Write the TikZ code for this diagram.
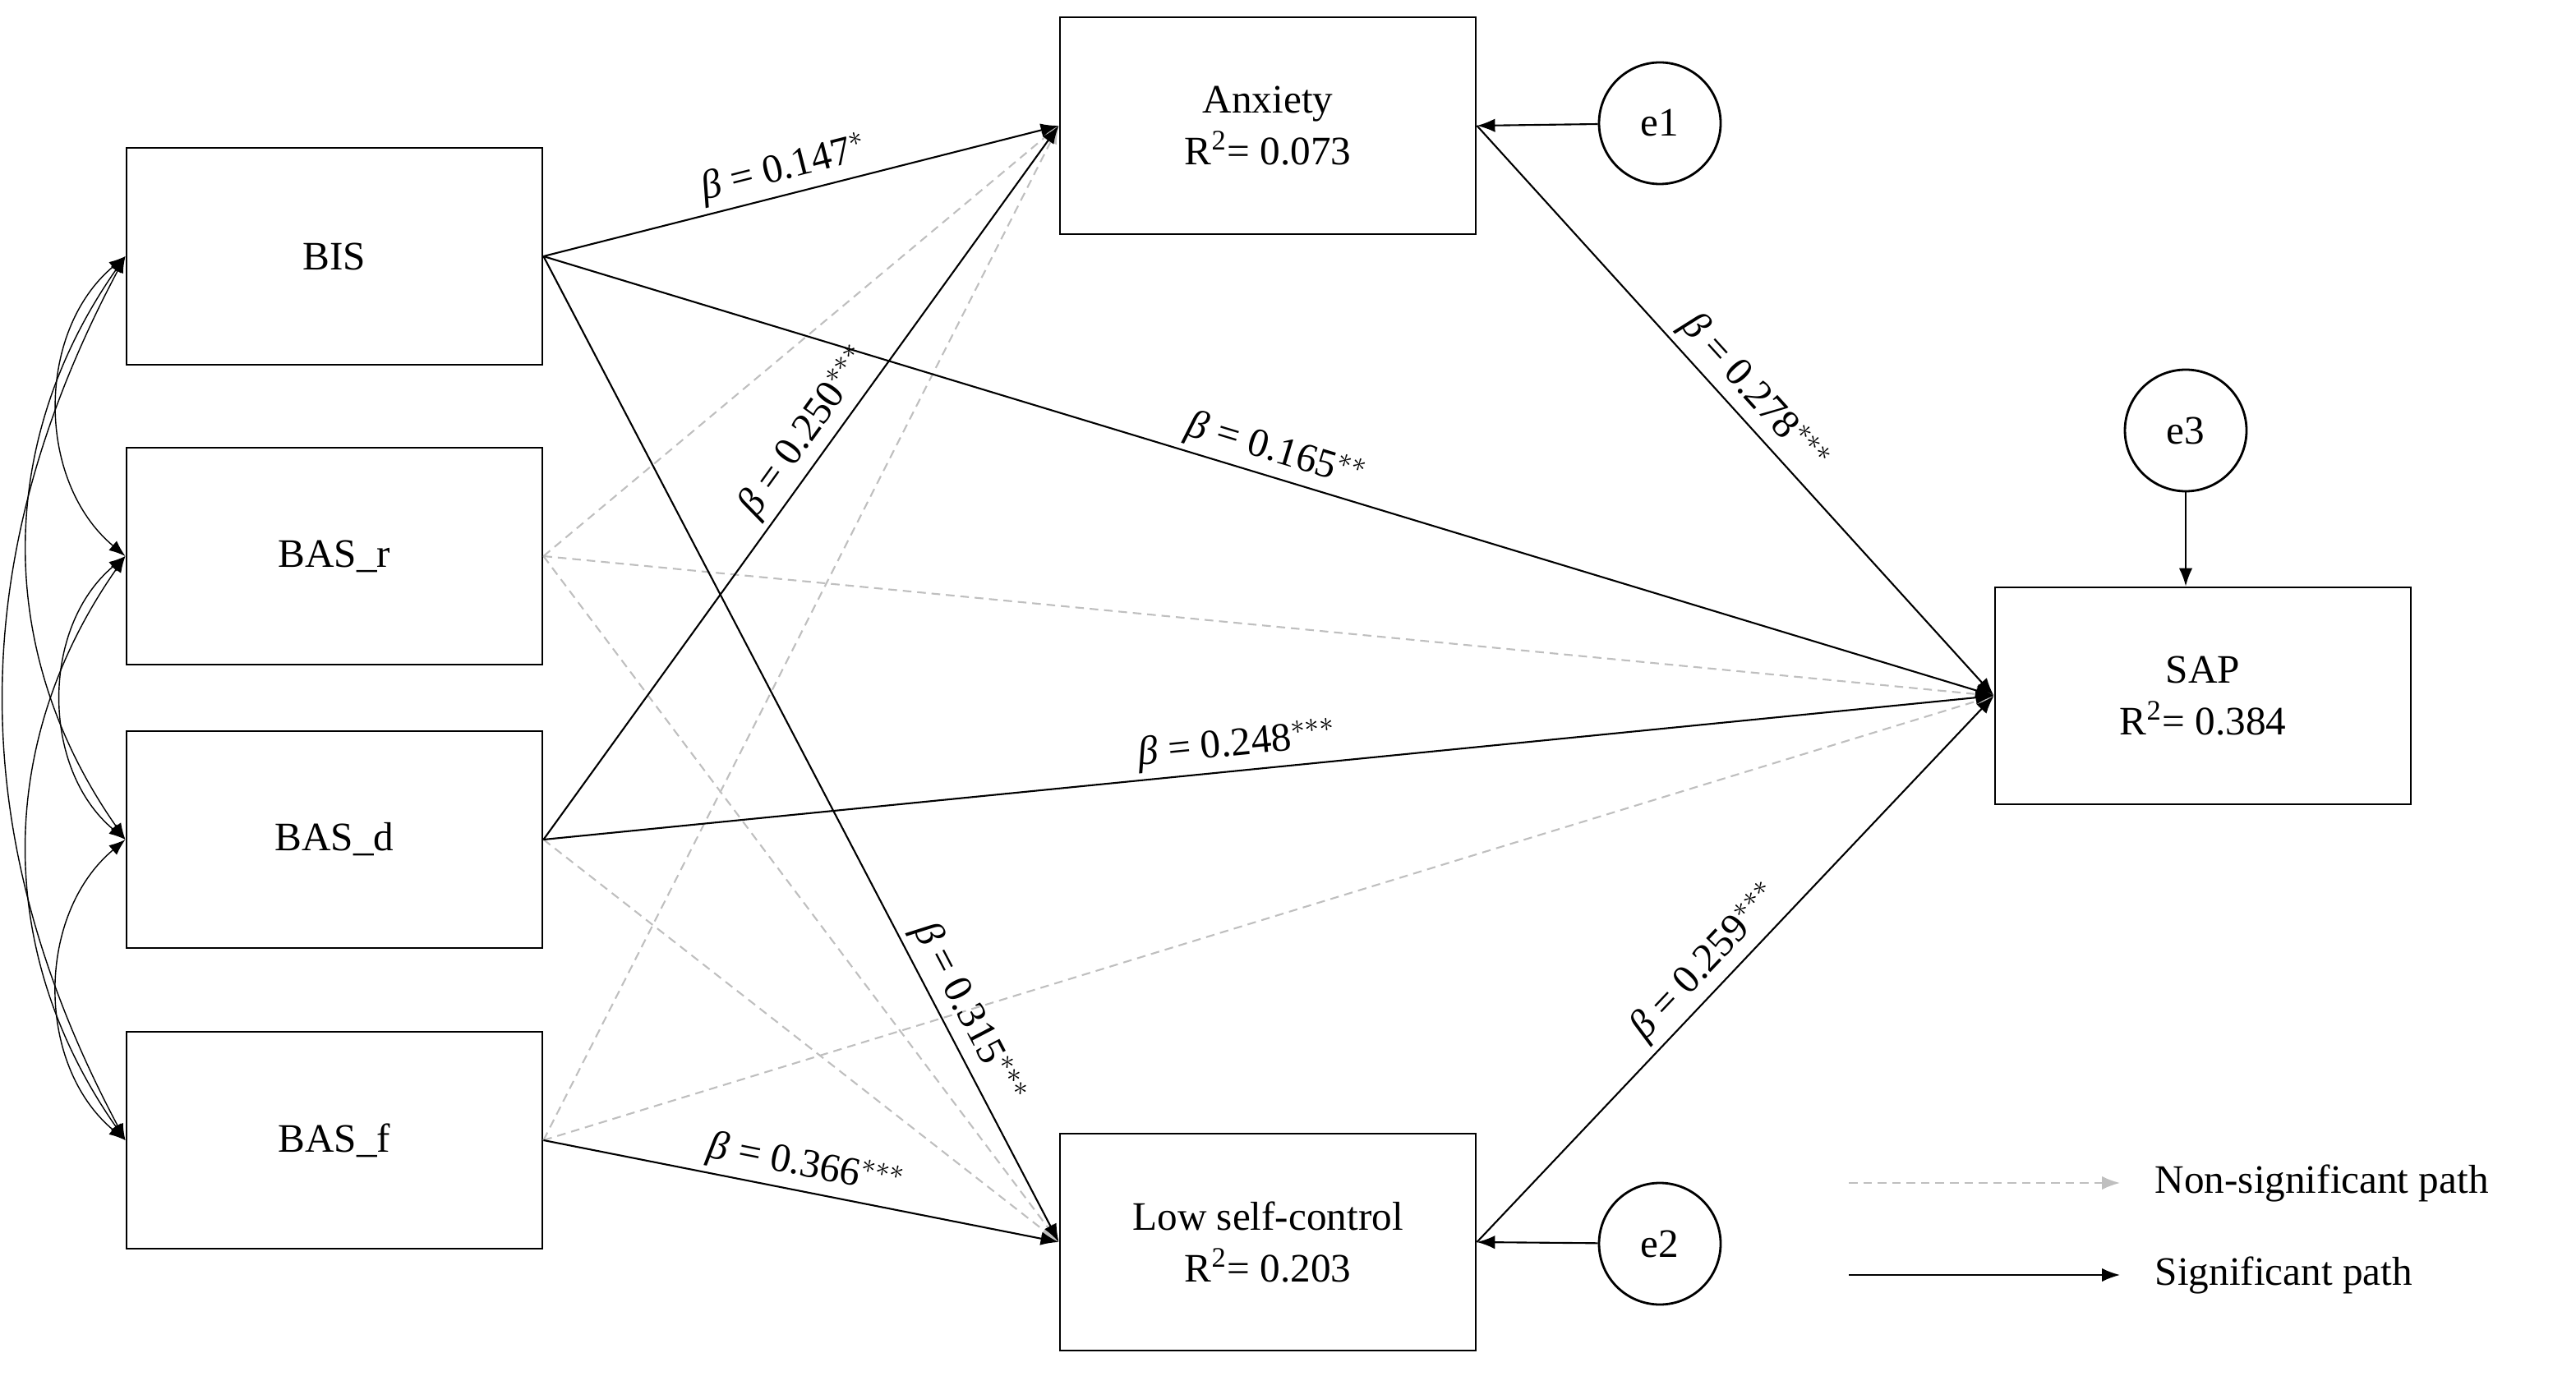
\documentclass[tikz,border=0pt]{standalone}
\usepackage{fontspec}
\setmainfont{Liberation Serif}
\usetikzlibrary{arrows.meta}
\begin{document}
\begin{tikzpicture}[
    box/.style={draw,thick,minimum width=5.06cm,minimum height=2.64cm,align=center,font=\fontsize{14}{18}\selectfont},
    err/.style={draw,thick,circle,minimum size=1.48cm,font=\fontsize{14}{16}\selectfont},
    sig/.style={-{Latex[length=2.2mm]},semithick},
    nonsig/.style={-{Latex[length=2.2mm]},densely dashed,gray!50,semithick},
    lab/.style={sloped,above,font=\fontsize{14}{16}\selectfont,inner sep=2pt}
]
    \useasboundingbox (0,0) rectangle (31.35,-16.75);

    \node[box] (bis) at (4.07,-3.12) {BIS};
    \node[box] (basr) at (4.07,-6.77) {BAS\_r};
    \node[box] (basd) at (4.07,-10.22) {BAS\_d};
    \node[box] (basf) at (4.07,-13.88) {BAS\_f};
    \node[box] (anx) at (15.43,-1.53) {Anxiety\\R\textsuperscript{2}= 0.073};
    \node[box] (lsc) at (15.43,-15.12) {Low self-control\\R\textsuperscript{2}= 0.203};
    \node[box] (sap) at (26.81,-8.47) {SAP\\R\textsuperscript{2}= 0.384};
    \node[err] (e1) at (20.2,-1.5) {e1};
    \node[err] (e2) at (20.2,-15.14) {e2};
    \node[err] (e3) at (26.6,-5.24) {e3};

    % covariances
    \draw[{Latex[length=2mm]}-{Latex[length=2mm]}] (bis.west) to[bend right=50] (basr.west);
    \draw[{Latex[length=2mm]}-{Latex[length=2mm]}] (basr.west) to[bend right=50] (basd.west);
    \draw[{Latex[length=2mm]}-{Latex[length=2mm]}] (basd.west) to[bend right=50] (basf.west);
    \draw[{Latex[length=2mm]}-{Latex[length=2mm]}] (bis.west) to[bend right=35] (basd.west);
    \draw[{Latex[length=2mm]}-{Latex[length=2mm]}] (basr.west) to[bend right=35] (basf.west);
    \draw[{Latex[length=2mm]}-{Latex[length=2mm]}] (bis.west) to[bend right=28] (basf.west);

    % non-significant paths
    \draw[nonsig] (basr.east) -- (anx.west);
    \draw[nonsig] (basr.east) -- (sap.west);
    \draw[nonsig] (basr.east) -- (lsc.west);
    \draw[nonsig] (basd.east) -- (lsc.west);
    \draw[nonsig] (basf.east) -- (anx.west);
    \draw[nonsig] (basf.east) -- (sap.west);

    % significant paths
    \draw[sig] (bis.east) -- (anx.west) node[lab,pos=0.48] {\textit{β} = 0.147$^{*}$};
    \draw[sig] (bis.east) -- (sap.west) node[lab,pos=0.5] {\textit{β} = 0.165$^{**}$};
    \draw[sig] (bis.east) -- (lsc.west) node[lab,pos=0.78] {\textit{β} = 0.315$^{***}$};
    \draw[sig] (basd.east) -- (anx.west) node[lab,pos=0.55] {\textit{β} = 0.250$^{***}$};
    \draw[sig] (basd.east) -- (sap.west) node[lab,pos=0.48] {\textit{β} = 0.248$^{***}$};
    \draw[sig] (basf.east) -- (lsc.west) node[lab,pos=0.5] {\textit{β} = 0.366$^{***}$};
    \draw[sig] (anx.east) -- (sap.west) node[lab,pos=0.5] {\textit{β} = 0.278$^{***}$};
    \draw[sig] (lsc.east) -- (sap.west) node[lab,pos=0.48] {\textit{β} = 0.259$^{***}$};
    \draw[sig] (e1) -- (anx.east);
    \draw[sig] (e2) -- (lsc.east);
    \draw[sig] (e3) -- (sap.north -| e3);

    % legend
    \coordinate (n1) at (22.5,-14.4);
    \coordinate (n2) at (25.8,-14.4);
    \coordinate (s1) at (22.5,-15.52);
    \coordinate (s2) at (25.8,-15.52);
    \draw[nonsig] (n1) -- (n2) node[right=0.3cm,black,font=\fontsize{14}{16}\selectfont] (ltxt1) {Non-significant path};
    \draw[sig] (s1) -- (s2) node[right=0.3cm,font=\fontsize{14}{16}\selectfont] (ltxt2) {Significant path};
\end{tikzpicture}
\end{document}
